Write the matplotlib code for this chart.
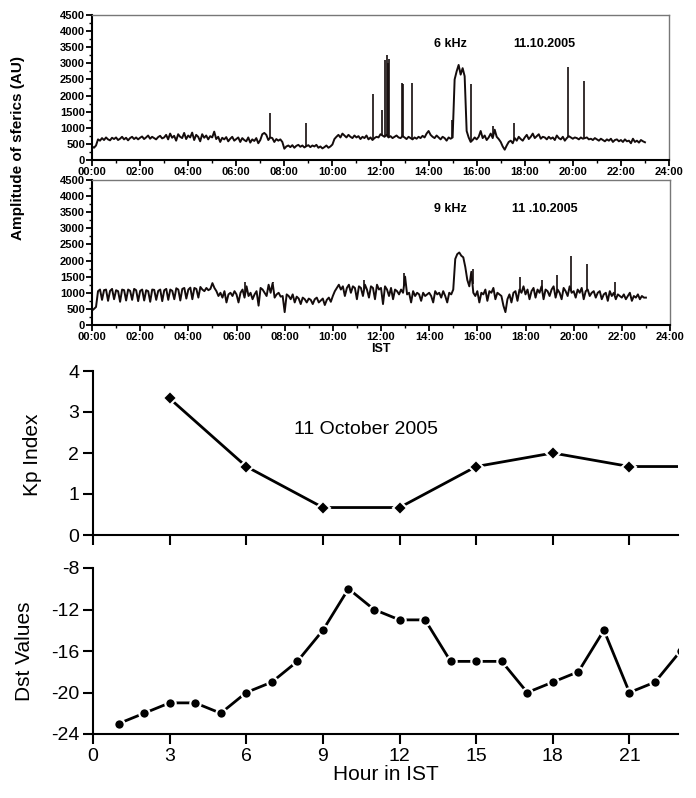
import numpy as np
import matplotlib
matplotlib.use('Agg')
import matplotlib.pyplot as plt
from matplotlib.ticker import MultipleLocator

plt.rcParams['font.family'] = ['Liberation Sans', 'DejaVu Sans']
plt.rcParams['axes.unicode_minus'] = False

# sferics amplitude (AU), one value every 5 minutes from 00:00 to 23:00 IST
step_min = 5
amp_6khz = [
    420, 380, 450, 640, 600, 680, 620, 700, 640, 610, 690, 650,      # 00h
    700, 620, 660, 720, 640, 690, 610, 680, 720, 650, 700, 640,      # 01h
    690, 730, 650, 700, 760, 660, 720, 680, 640, 710, 750, 670,      # 02h
    700, 780, 640, 820, 690, 750, 600, 800, 720, 680, 840, 650,      # 03h
    760, 700, 850, 620, 780, 720, 580, 800, 690, 760, 640, 740,      # 04h
    700, 880, 650, 720, 560, 690, 640, 710, 580, 660, 720, 600,      # 05h
    650, 700, 560, 680, 620, 580, 700, 540, 640, 590, 680, 520,      # 06h
    620, 800, 840, 780, 620, 700, 680, 560, 650, 600, 640, 560,      # 07h
    350, 420, 450, 400, 460, 380, 440, 470, 410, 450, 390, 430,      # 08h
    460, 400, 450, 420, 470, 380, 420, 360, 400, 450, 380, 420,      # 09h
    480, 650, 720, 780, 700, 820, 760, 700, 780, 720, 680, 760,      # 10h
    700, 740, 650, 720, 680, 760, 640, 700, 620, 680, 720, 700,      # 11h
    800, 760, 720, 780, 700, 740, 680, 720, 760, 700, 680, 740,      # 12h
    700, 650, 720, 680, 640, 700, 660, 720, 680, 750, 700, 820,      # 13h
    900, 780, 720, 680, 760, 700, 640, 720, 680, 600, 700, 660,      # 14h
    700, 2500, 2750, 2950, 2650, 2850, 2600, 900, 700, 560, 620, 700,  # 15h
    640, 720, 900, 680, 760, 620, 700, 820, 680, 940, 720, 650,      # 16h
    560, 420, 320, 450, 560, 600, 520, 680, 600, 720, 650, 600,      # 17h
    700, 780, 650, 720, 820, 680, 740, 800, 660, 720, 700, 640,      # 18h
    720, 660, 700, 620, 760, 680, 640, 720, 600, 680, 740, 700,      # 19h
    660, 700, 680, 640, 700, 660, 680, 700, 640, 660, 620, 680,      # 20h
    640, 600, 660, 620, 580, 640, 600, 660, 560, 620, 640, 580,      # 21h
    620, 560, 640, 580, 600, 520, 660, 560, 600, 540, 620, 580,      # 22h
    550,
]
amp_9khz = [
    450, 500, 560, 1050, 1100, 780, 1080, 1100, 750, 1060, 1120, 800,       # 00h
    1080, 1050, 720, 1100, 1080, 760, 1100, 1060, 780, 1120, 1080, 740,     # 01h
    1060, 1100, 760, 1080, 1050, 720, 1100, 1090, 780, 1060, 1100, 740,     # 02h
    1080, 1120, 780, 1100, 1060, 800, 1140, 1100, 760, 1120, 1150, 820,     # 03h
    1100, 1160, 800, 1150, 1120, 850, 1180, 1100, 1050, 1150, 1080, 1120,   # 04h
    1300, 1150, 1050, 900, 1000, 850, 1050, 700, 950, 1000, 900, 1050,      # 05h
    950, 700, 1000, 1100, 850, 1200, 900, 1000, 800, 950, 1050, 600,        # 06h
    1150, 1100, 1000, 900, 1250, 1000, 1300, 850, 950, 1000, 880, 900,      # 07h
    400, 950, 900, 800, 950, 700, 880, 820, 650, 850, 800, 700,             # 08h
    820, 780, 650, 800, 850, 700, 760, 820, 620, 780, 850, 720,             # 09h
    900, 1050, 1150, 1250, 1100, 1200, 900, 1150, 1250, 1000, 1200, 1150,   # 10h
    800, 1200, 1150, 900, 1250, 1100, 850, 1200, 1150, 800, 1250, 1100,     # 11h
    1150, 650, 1200, 1100, 900, 1150, 800, 1100, 1050, 950, 1100, 1000,     # 12h
    1500, 950, 1000, 700, 1050, 900, 1000, 950, 750, 1000, 900, 950,        # 13h
    1000, 900, 700, 1050, 950, 1000, 850, 1050, 900, 700, 1000, 950,        # 14h
    1100, 2050, 2200, 2250, 2150, 2100, 1800, 1400, 1200, 1650, 1000, 900,  # 15h
    1050, 700, 1000, 950, 1100, 750, 1050, 1000, 1150, 800, 1000, 950,      # 16h
    900, 600, 400, 800, 950, 700, 1000, 1050, 750, 1100, 1000, 1200,        # 17h
    950, 1100, 800, 1050, 1150, 850, 1100, 1000, 1200, 800, 1100, 1050,     # 18h
    900, 1100, 1200, 850, 1100, 1000, 800, 1150, 1050, 900, 1200, 1000,     # 19h
    1050, 850, 1100, 1000, 1150, 800, 1050, 1100, 900, 1000, 1050, 850,     # 20h
    1000, 1050, 800, 950, 1000, 750, 1050, 900, 1000, 800, 950, 900,        # 21h
    850, 950, 800, 900, 1000, 750, 900, 850, 950, 800, 900, 850,            # 22h
    850,
]

# isolated sferics bursts (hour IST, peak amplitude)
spike_t_6khz = [7.4, 8.92, 11.69, 12.06, 12.2, 12.25, 12.3, 12.35, 12.88, 12.95,
                13.3, 14.97, 15.77, 16.7, 17.55, 19.8, 20.46]
spike_a_6khz = [1450, 1150, 2050, 1550, 3100, 3250, 3000, 3150, 2400, 2350,
                2400, 1250, 2350, 1050, 1150, 2900, 2450]
spike_t_9khz = [6.35, 7.5, 11.3, 12.95, 15.8, 17.77, 18.7, 19.3, 19.9, 20.55, 21.7]
spike_a_9khz = [1350, 1350, 1400, 1600, 1750, 1500, 1400, 1550, 2150, 1900, 1350]

time_labels = ['00:00', '02:00', '04:00', '06:00', '08:00', '10:00', '12:00',
               '14:00', '16:00', '18:00', '20:00', '22:00', '24:00']

# geomagnetic indices
kp_hour = [3, 6, 9, 12, 15, 18, 21, 24]
kp_val = [3.33, 1.67, 0.67, 0.67, 1.67, 2.0, 1.67, 1.67]
dst_hour = [1, 2, 3, 4, 5, 6, 7, 8, 9, 10, 11, 12, 13, 14, 15, 16, 17, 18, 19, 20, 21, 22, 23]
dst_val = [-23, -22, -21, -21, -22, -20, -19, -17, -14, -10, -12, -13, -13,
           -17, -17, -17, -20, -19, -18, -14, -20, -19, -16]

W, H = 696, 798
fig = plt.figure(figsize=(W / 100, H / 100), dpi=100)


def px_axes(left, top, right, bottom):
    return fig.add_axes([left / W, 1 - bottom / H, (right - left) / W, (bottom - top) / H])


def sferics_panel(ax, amp, sp_t, sp_a, freq, date):
    t = np.arange(len(amp)) * step_min / 60.0
    ax.plot(t, amp, color='#140c0c', lw=1.4)
    base = np.interp(sp_t, t, amp)
    ax.vlines(sp_t, base, sp_a, color='#140c0c', lw=1.2)
    ax.set_xlim(0, 24)
    ax.set_ylim(0, 4500)
    ax.xaxis.set_major_locator(MultipleLocator(2))
    ax.xaxis.set_minor_locator(MultipleLocator(1))
    ax.set_xticks(range(0, 25, 2))
    ax.set_xticklabels(time_labels)
    ax.yaxis.set_major_locator(MultipleLocator(500))
    ax.yaxis.set_minor_locator(MultipleLocator(250))
    ax.tick_params(which='major', direction='out', length=4, width=1.3, labelsize=8, pad=1)
    ax.tick_params(which='minor', direction='out', length=2.5, width=1)
    for lab in ax.get_xticklabels() + ax.get_yticklabels():
        lab.set_fontweight('bold')
    for s in ['left', 'bottom']:
        ax.spines[s].set_linewidth(1.5)
    for s in ['top', 'right']:
        ax.spines[s].set_linewidth(1.0)
        ax.spines[s].set_color('#777777')
    ax.text(14.9, 3600, freq, fontsize=9, fontweight='bold', ha='center', va='center')
    ax.text(18.8, 3600, date, fontsize=9, fontweight='bold', ha='center', va='center')


ax1 = px_axes(92, 15, 669, 160)
sferics_panel(ax1, amp_6khz, spike_t_6khz, spike_a_6khz, '6 kHz', '11.10.2005')

ax2 = px_axes(92, 180, 670, 325)
sferics_panel(ax2, amp_9khz, spike_t_9khz, spike_a_9khz, '9 kHz', '11 .10.2005')
ax2.set_xlabel('IST', fontsize=9, fontweight='bold', labelpad=1)

fig.text(18 / W, 1 - 148 / H, 'Amplitude of sferics (AU)', rotation=90,
         fontsize=11, fontweight='bold', ha='center', va='center')

# Kp index
ax3 = px_axes(93, 371, 678, 535)
ax3.plot(kp_hour, kp_val, color='black', lw=2, marker='D', ms=7,
         mec='white', mew=1.5, mfc='black')
ax3.set_xlim(0, 22.9)
ax3.set_ylim(0, 4)
ax3.set_xticks(range(0, 22, 3))
ax3.set_xticklabels([])
ax3.set_yticks(range(0, 5))
ax3.text(10.7, 2.58, '11 October 2005', fontsize=14, ha='center', va='center')
fig.text(33 / W, 1 - 455 / H, 'Kp Index', rotation=90, fontsize=15,
         ha='center', va='center')

# Dst index
ax4 = px_axes(93, 568, 678, 734)
ax4.plot(dst_hour, dst_val, color='black', lw=2, marker='o', ms=7.5,
         mec='white', mew=1.5, mfc='black')
ax4.set_xlim(0, 22.9)
ax4.set_ylim(-24, -8)
ax4.set_xticks(range(0, 22, 3))
ax4.set_yticks(range(-24, -7, 4))
ax4.set_xlabel('Hour in IST', fontsize=15, labelpad=0)
fig.text(25 / W, 1 - 651 / H, 'Dst Values', rotation=90, fontsize=15,
         ha='center', va='center')

for ax in (ax3, ax4):
    ax.spines['top'].set_visible(False)
    ax.spines['right'].set_visible(False)
    ax.spines['left'].set_linewidth(1.5)
    ax.spines['bottom'].set_linewidth(1.5)
    ax.tick_params(direction='out', length=7, width=1.5, labelsize=14, pad=3)

fig.savefig('out.png', dpi=100)
